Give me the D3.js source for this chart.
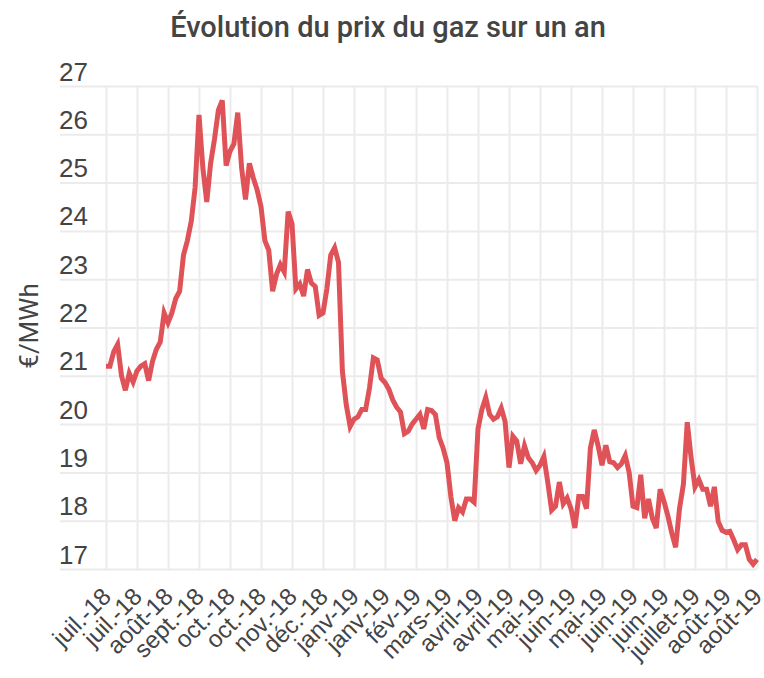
<!DOCTYPE html>
<html lang="fr">
<head>
<meta charset="utf-8">
<script src="https://cdn.jsdelivr.net/npm/d3@7/dist/d3.min.js"></script>
<style>
  body { margin: 0; background: #ffffff; }
  svg { display: block; font-family: Roboto, "Noto Sans", sans-serif; }
</style>
</head>
<body>
<svg id="chart"></svg>
<script>
// Libellés de l'axe des x (un tous les 8 points)
const tickLabels = [
    "juil.-18", "juil.-18", "août-18", "sept.-18", "oct.-18", "oct.-18",
    "nov.-18", "déc.-18", "janv-19", "janv-19", "fév-19", "mars-19",
    "avril-19", "avril-19", "mai-19", "juin-19", "mai-19", "juin-19",
    "juin-19", "juillet-19", "août-19", "août-19"
];

// Prix du gaz en €/MWh
const prices = [
    21.2, 21.2, 21.5, 21.65, 21.0, 20.7, 21.05, 20.87, 21.1, 21.2,
    21.25, 20.9, 21.3, 21.55, 21.7, 22.3, 22.1, 22.3, 22.6, 22.75,
    23.5, 23.8, 24.2, 24.9, 26.4, 25.3, 24.6, 25.4, 25.9, 26.5,
    26.7, 25.35, 25.65, 25.8, 26.45, 25.3, 24.65, 25.4, 25.1, 24.85,
    24.5, 23.8, 23.6, 22.75, 23.1, 23.3, 23.15, 24.4, 24.15, 22.8,
    22.9, 22.65, 23.2, 22.92, 22.85, 22.25, 22.3, 22.8, 23.5, 23.65,
    23.35, 21.1, 20.4, 19.95, 20.1, 20.15, 20.3, 20.3, 20.75, 21.37,
    21.33, 20.95, 20.86, 20.72, 20.5, 20.35, 20.25, 19.8, 19.85, 20.0,
    20.1, 20.2, 19.9, 20.3, 20.28, 20.2, 19.72, 19.5, 19.2, 18.5,
    18.0, 18.27, 18.18, 18.45, 18.45, 18.38, 19.9, 20.3, 20.55, 20.2,
    20.1, 20.15, 20.33, 20.05, 19.1, 19.75, 19.65, 19.18, 19.55, 19.3,
    19.2, 19.04, 19.15, 19.33, 18.8, 18.22, 18.3, 18.8, 18.35, 18.47,
    18.25, 17.85, 18.5, 18.5, 18.25, 19.5, 19.88, 19.55, 19.15, 19.56,
    19.22, 19.2, 19.1, 19.18, 19.35, 19.0, 18.3, 18.27, 18.95, 18.05,
    18.45, 18.05, 17.85, 18.65, 18.4, 18.1, 17.75, 17.45, 18.25, 18.75,
    20.04, 19.3, 18.7, 18.85, 18.65, 18.65, 18.3, 18.7, 17.98, 17.8,
    17.76, 17.78, 17.6, 17.4, 17.5, 17.5, 17.2, 17.1, 17.2
];

const yTicks = [17, 18, 19, 20, 21, 22, 23, 24, 25, 26, 27];
const tickStep = 8;

function renderPriceChart(selector) {
    const width = 764;
    const height = 678;
    const margin = { top: 86, right: 7, bottom: 109, left: 106 };
    const gridLeft = 60;

    const svg = d3.select(selector)
        .attr("width", width)
        .attr("height", height);

    const x = d3.scaleLinear()
        .domain([0, prices.length - 1])
        .range([margin.left, width - margin.right]);

    const y = d3.scaleLinear()
        .domain([d3.min(yTicks), d3.max(yTicks)])
        .range([height - margin.bottom, margin.top]);

    // Titre
    svg.append("text")
        .attr("x", 388)
        .attr("y", 37)
        .attr("text-anchor", "middle")
        .style("font-size", "29px")
        .style("font-weight", 500)
        .style("fill", "#444")
        .text("Évolution du prix du gaz sur un an");

    // Grille verticale + libellés de l'axe x
    const xAxis = svg.append("g")
        .attr("transform", `translate(0, ${height - margin.bottom})`)
        .call(d3.axisBottom(x)
            .tickValues(d3.range(0, prices.length, tickStep))
            .tickFormat((d, i) => tickLabels[i])
            .tickSize(-(height - margin.bottom - margin.top)));

    xAxis.select(".domain").remove();
    xAxis.selectAll(".tick line")
        .style("stroke", "#ebebeb")
        .style("stroke-width", 2);
    xAxis.selectAll(".tick text")
        .attr("y", 0)
        .attr("dy", "0.35em")
        .attr("text-anchor", "end")
        .attr("transform", "translate(0, 23) rotate(-45)")
        .style("font-size", "24px")
        .style("fill", "#444");

    // Grille horizontale + libellés de l'axe y
    const yAxis = svg.append("g")
        .attr("transform", `translate(${gridLeft}, 0)`)
        .call(d3.axisLeft(y)
            .tickValues(yTicks)
            .tickSize(-(width - margin.right - gridLeft)));

    yAxis.select(".domain").remove();
    yAxis.selectAll(".tick line")
        .style("stroke", "#ebebeb")
        .style("stroke-width", 2);
    yAxis.selectAll(".tick text")
        .attr("x", -1)
        .attr("y", -6)
        .attr("dy", 0)
        .attr("text-anchor", "start")
        .style("font-size", "26px")
        .style("font-weight", 500)
        .style("fill", "#444");

    // Titre de l'axe y
    svg.append("text")
        .attr("transform", `translate(38, 326) rotate(-90)`)
        .attr("text-anchor", "middle")
        .style("font-size", "26px")
        .style("fill", "#444")
        .text("€/MWh");

    // Courbe des prix
    const line = d3.line()
        .x((d, i) => x(i))
        .y(d => y(d));

    svg.append("path")
        .datum(prices)
        .attr("d", line)
        .style("fill", "none")
        .style("stroke", "#df5358")
        .style("stroke-width", 5)
        .style("stroke-linejoin", "miter")
        .style("stroke-miterlimit", 4);
}

renderPriceChart("#chart");
</script>
</body>
</html>
